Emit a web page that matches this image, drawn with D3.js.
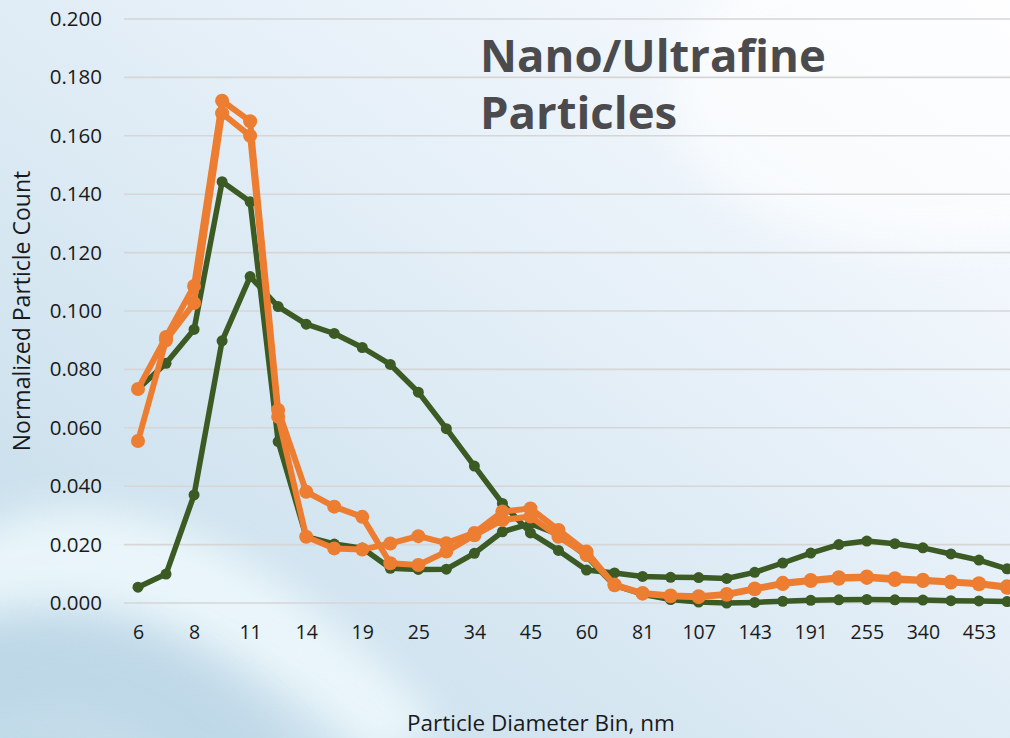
<!DOCTYPE html>
<html>
<head>
<meta charset="utf-8">
<script src="https://cdn.jsdelivr.net/npm/d3@7/dist/d3.min.js"></script>
<style>
  html, body { margin: 0; padding: 0; background: #fff; }
  svg { display: block; }
</style>
</head>
<body>
<svg id="chart" width="1010" height="738"></svg>
<script>
// ---- data ----
const categories = ["6","7","8","9","11","13","14","16","19","22","25","29","34","39","45","52","60","70","81","94","107","124","143","165","191","221","255","294","340","392","453","523"];
const tickLabels = ["6","8","11","14","19","25","34","45","60","81","107","143","191","255","340","453"];
const yTicks = [0, 0.02, 0.04, 0.06, 0.08, 0.10, 0.12, 0.14, 0.16, 0.18, 0.20];

const greenSharp = [0.0733,0.0821,0.0937,0.1443,0.1374,0.0553,0.0227,0.0202,0.0188,0.0119,0.0115,0.0116,0.0170,0.0244,0.0272,0.0235,0.0160,0.0060,0.0030,0.0012,0.0003,0.0000,0.0002,0.0006,0.0009,0.0011,0.0012,0.0011,0.0010,0.0008,0.0007,0.0005];
const greenBroad = [0.0054,0.0099,0.0370,0.0898,0.1118,0.1015,0.0955,0.0923,0.0875,0.0817,0.0722,0.0597,0.0469,0.0341,0.0240,0.0180,0.0113,0.0103,0.0091,0.0088,0.0087,0.0084,0.0105,0.0137,0.0171,0.0200,0.0212,0.0203,0.0189,0.0168,0.0147,0.0117];
const orangeA = [0.0733,0.0911,0.1086,0.1720,0.1650,0.0661,0.0381,0.0330,0.0295,0.0136,0.0130,0.0176,0.0232,0.0284,0.0296,0.0227,0.0164,0.0063,0.0034,0.0026,0.0023,0.0031,0.0050,0.0069,0.0079,0.0088,0.0091,0.0085,0.0080,0.0074,0.0068,0.0057];
const orangeB = [0.0555,0.0900,0.1027,0.1677,0.1600,0.0638,0.0227,0.0187,0.0183,0.0204,0.0229,0.0205,0.0240,0.0313,0.0324,0.0250,0.0176,0.0061,0.0032,0.0023,0.0020,0.0028,0.0047,0.0065,0.0075,0.0083,0.0086,0.0079,0.0075,0.0070,0.0064,0.0052];

const seriesList = [
  { name: "greenSharp", values: greenSharp, color: "#3b5a24", width: 5.5, r: 5.5 },
  { name: "greenBroad", values: greenBroad, color: "#3b5a24", width: 5.5, r: 5.5 },
  { name: "orangeA", values: orangeA, color: "#ed7d31", width: 6, r: 7 },
  { name: "orangeB", values: orangeB, color: "#ed7d31", width: 6, r: 7 }
];

const titleLines = ["Nano/Ultrafine", "Particles"];

// ---- layout ----
const W = 1010, H = 738;
const plot = { left: 124, right: 1021, top: 19, bottom: 603 };

const svg = d3.select("#chart");
const defs = svg.append("defs");

// background gradient
const bg = defs.append("linearGradient").attr("id", "bg")
  .attr("x1", "100%").attr("y1", "0%").attr("x2", "0%").attr("y2", "100%");
bg.append("stop").attr("offset", "0%").attr("stop-color", "#fbfdff");
bg.append("stop").attr("offset", "40%").attr("stop-color", "#e6f0f8");
bg.append("stop").attr("offset", "100%").attr("stop-color", "#c2dbe9");
svg.append("rect").attr("width", W).attr("height", H).attr("fill", "url(#bg)");

const blur = defs.append("filter").attr("id", "blur").attr("x", "-20%").attr("y", "-20%").attr("width", "140%").attr("height", "140%");
blur.append("feGaussianBlur").attr("stdDeviation", 18);
svg.append("path")
  .attr("d", "M -40 540 C 120 450, 280 560, 440 720 L 380 770 C 240 640, 100 570, -40 620 Z")
  .attr("fill", "#f0fafd").attr("opacity", 0.8).attr("filter", "url(#blur)");
svg.append("path")
  .attr("d", "M -40 650 C 80 600, 200 640, 300 760 L 200 780 C 120 700, 40 690, -40 720 Z")
  .attr("fill", "#b6d2e3").attr("opacity", 0.5).attr("filter", "url(#blur)");
svg.append("ellipse").attr("cx", 930).attr("cy", 90).attr("rx", 260).attr("ry", 160)
  .attr("fill", "#ffffff").attr("opacity", 0.6).attr("filter", "url(#blur)");

// ---- scales ----
const x = d3.scalePoint().domain(categories).range([138, 1007]);
const y = d3.scaleLinear().domain([0, 0.2]).range([plot.bottom, plot.top]);

// grid
svg.append("g").selectAll("line").data(yTicks).join("line")
  .attr("x1", plot.left).attr("x2", plot.right)
  .attr("y1", d => y(d)).attr("y2", d => y(d))
  .attr("stroke", "#d6d6d6").attr("stroke-width", 1.6);

// y axis labels
const yAxis = d3.axisLeft(y).tickValues(yTicks).tickFormat(d3.format(".3f")).tickSize(0).tickPadding(0);
const gy = svg.append("g").attr("transform", "translate(102,0)").call(yAxis);
gy.select(".domain").remove();
gy.selectAll("text").attr("font-family", "'Open Sans', sans-serif").attr("font-size", 20.5).attr("fill", "#1a1a1a");

// x axis labels
const xAxis = d3.axisBottom(x).tickValues(tickLabels).tickSize(0).tickPadding(0);
const gx = svg.append("g").attr("transform", "translate(0,625)").call(xAxis);
gx.select(".domain").remove();
gx.selectAll("text").attr("font-family", "'Open Sans', sans-serif").attr("font-size", 19.5).attr("fill", "#1a1a1a");

// axis titles
svg.append("text")
  .attr("transform", "translate(30,311) rotate(-90)")
  .attr("text-anchor", "middle")
  .attr("font-family", "'Open Sans', sans-serif").attr("font-size", 23).attr("fill", "#1a1a1a")
  .text("Normalized Particle Count");
svg.append("text")
  .attr("x", 541).attr("y", 731)
  .attr("text-anchor", "middle")
  .attr("font-family", "'Open Sans', sans-serif").attr("font-size", 22.5).attr("fill", "#1a1a1a")
  .text("Particle Diameter Bin, nm");

// title
svg.append("g").selectAll("text").data(titleLines).join("text")
  .attr("x", 480).attr("y", (d, i) => 72 + i * 57)
  .attr("font-family", "'Open Sans', sans-serif").attr("font-weight", 700).attr("font-size", 45.5)
  .attr("fill", "#4b4b4e")
  .text(d => d);

// ---- series ----
const line = d3.line().x((d, i) => x(categories[i])).y(d => y(d));
const gSeries = svg.append("g");
seriesList.forEach(s => {
  const g = gSeries.append("g");
  g.append("path").datum(s.values).attr("d", line)
    .attr("fill", "none").attr("stroke", s.color).attr("stroke-width", s.width)
    .attr("stroke-linejoin", "round");
  g.selectAll("circle").data(s.values).join("circle")
    .attr("cx", (d, i) => x(categories[i])).attr("cy", d => y(d))
    .attr("r", s.r).attr("fill", s.color);
});
</script>
</body>
</html>
